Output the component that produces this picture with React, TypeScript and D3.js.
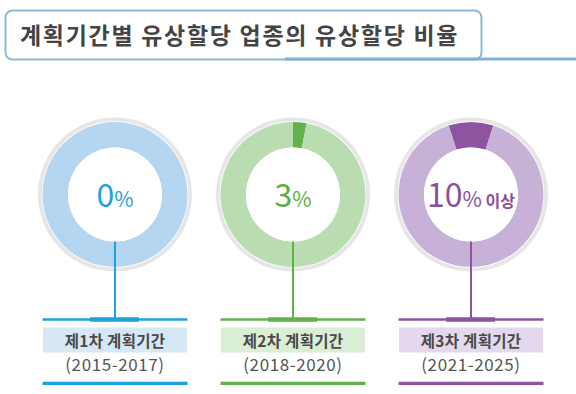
import React from "react";
import * as d3 from "d3";

const title = "계획기간별 유상할당 업종의 유상할당 비율";
const periods = ["제1차 계획기간", "제2차 계획기간", "제3차 계획기간"];
const years = ["(2015-2017)", "(2018-2020)", "(2021-2025)"];
const shares = [0, 3, 10];
const suffixes = ["", "", " 이상"];
const segmentAlign = ["start", "start", "center"];

const palettes = [
  { light: "#b5d6f1", dark: "#1ea2dc", text: "#1ea2dc", box: "#d6e8f6", line: "#1ea2dc" },
  { light: "#b9ddb1", dark: "#62b14d", text: "#5eae48", box: "#daedd5", line: "#62b14d" },
  { light: "#c7b1d7", dark: "#8d55a0", text: "#8a4f9e", box: "#e4d9ec", line: "#8d55a0" },
];

const FONT = "'Noto Sans CJK KR', 'Noto Sans', sans-serif";

export default function App() {
  const W = 576, H = 394;
  const cy = 194.5;
  const x = d3.scalePoint<string>().domain(periods).range([115, 471]);
  const rOuterGray = 77;
  const rOuter = 72.5;
  const rInner = 47;
  const arc = d3.arc<d3.PieArcDatum<number>>().innerRadius(rInner).outerRadius(rOuter);

  return (
    <svg width={W} height={H} style={{ position: "absolute", left: 0, top: 0 }} fontFamily={FONT}>
      <rect width={W} height={H} fill="#fff" />
      {/* title box */}
      <rect x={5.5} y={10.5} width={476} height={49} rx={7} fill="#fff" stroke="#8cb9d3" strokeWidth={2} />
      <line x1={285} x2={576} y1={59} y2={59} stroke="#7fb0cc" strokeWidth={3} />
      <text x={20} y={44} fontSize={23} fontWeight={700} fill="#444" letterSpacing={1.7}>{title}</text>

      {periods.map((p, i) => {
        const cx = x(p)!;
        const pal = palettes[i];
        const v = shares[i];
        const start = segmentAlign[i] === "center" ? -Math.PI * v / 100 : 0;
        const pie = d3.pie<number>().sort(null).startAngle(start).endAngle(start + 2 * Math.PI);
        const arcs = pie([v, 100 - v]);
        return (
          <g key={p}>
            <circle cx={cx} cy={cy} r={rOuterGray} fill="#e6e6e6" />
            <circle cx={cx} cy={cy} r={rOuter + 0.8} fill="#fff" />
            <g transform={`translate(${cx},${cy})`}>
              {arcs.map((a, j) =>
                a.endAngle - a.startAngle > 0 ? (
                  <path key={j} d={arc(a) || ""} fill={j === 0 ? pal.dark : pal.light} />
                ) : null
              )}
            </g>
            <circle cx={cx} cy={cy} r={rInner} fill="#fff" />
            <text x={cx} y={cy + 12} textAnchor="middle" fill={pal.text}>
              <tspan fontSize={32}>{v}</tspan>
              <tspan fontSize={21}>%</tspan>
              {suffixes[i] ? <tspan fontSize={16} fontWeight={700}>{suffixes[i]}</tspan> : null}
            </text>
            <line x1={cx} x2={cx} y1={cy + rInner} y2={319.5} stroke={pal.line} strokeWidth={2} />
            <line x1={cx - 72.5} x2={cx + 72.5} y1={319.5} y2={319.5} stroke={pal.line} strokeWidth={2.3} />
            <line x1={cx - 25} x2={cx + 24} y1={319.5} y2={319.5} stroke={pal.line} strokeWidth={4.5} />
            <rect x={cx - 72} y={327.5} width={144} height={25} fill={pal.box} />
            <text x={cx} y={346.5} textAnchor="middle" fontSize={15.5} fontWeight={700} fill="#4a4a4a" letterSpacing={0.3}>{p}</text>
            <text x={cx} y={371} textAnchor="middle" fontSize={17} fill="#555" letterSpacing={0.6}>{years[i]}</text>
            <line x1={cx - 72.5} x2={cx + 72.5} y1={383.3} y2={383.3} stroke={pal.line} strokeWidth={3.2} />
          </g>
        );
      })}
    </svg>
  );
}
